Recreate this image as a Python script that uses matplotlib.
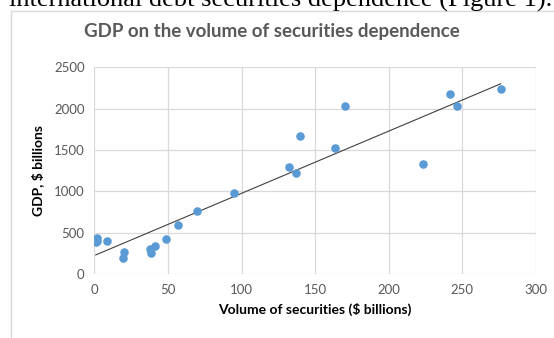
import matplotlib
matplotlib.use('Agg')
import matplotlib.pyplot as plt
from matplotlib.patches import Rectangle
import numpy as np

# volume of securities ($ billions) vs GDP ($ billions)
volume = [1, 1.5, 2, 8.5, 19.5, 20.5, 37.5, 38.5, 41.5, 48.5, 57, 69.5, 95,
          132.5, 137, 139.5, 163.5, 170.5, 223.5, 241.5, 246.5, 276]
gdp = [390, 430, 400, 402, 188, 270, 300, 260, 340, 427, 588, 758, 983,
       1297, 1225, 1665, 1520, 2035, 1326, 2176, 2031, 2237]
xticks = [0, 50, 100, 150, 200, 250, 300]
yticks = [0, 500, 1000, 1500, 2000, 2500]

BLUE = '#5B9BD5'
GRID = '#D9D9D9'
TXT = '#595959'
FONT = 'Lato'

W, H = 554, 338
fig = plt.figure(figsize=(W / 100, H / 100), dpi=100)

# page text cut off at the top
fig.text(9 / W, 1 - 6.7 / H, 'international debt securities dependence (Figure 1).',
         family='Liberation Serif', fontsize=19, ha='left', va='baseline', color='black')

# chart frame
fig.patches.append(Rectangle((10.5 / W, -0.1), 1.2, (H - 10.5) / H + 0.1, transform=fig.transFigure,
                             fill=False, edgecolor=GRID, lw=1))

ax = fig.add_axes([94.3 / W, (H - 274) / H, (536 - 94.3) / W, (274 - 67.3) / H])
ax.scatter(volume, gdp, s=38, color=BLUE, zorder=3, linewidths=0)

coef = np.polyfit(volume, gdp, 1)
xs = np.array([min(volume), max(volume)])
ax.plot(xs, np.polyval(coef, xs), color='#404040', lw=0.8, zorder=2)

ax.set_xlim(0, 300)
ax.set_ylim(0, 2500)
ax.set_xticks(xticks)
ax.set_yticks(yticks)
ax.grid(True, color=GRID, lw=0.9)
ax.set_axisbelow(True)
for s in ax.spines.values():
    s.set_visible(False)
ax.tick_params(length=0, labelsize=9.5, labelcolor=TXT, pad=7)
for lab in ax.get_xticklabels() + ax.get_yticklabels():
    lab.set_family(FONT)

ax.set_xlabel('Volume of securities ($ billions)', family=FONT, fontweight='bold',
              fontsize=10, color='black', labelpad=5)
ax.set_ylabel('GDP, $ billions', family=FONT, fontweight='bold',
              fontsize=10, color='black', labelpad=7)

fig.text(271.5 / W, 1 - 36.5 / H, 'GDP on the volume of securities dependence', family=FONT,
         fontweight='bold', fontsize=13.5, color=TXT, ha='center', va='baseline')

fig.savefig('out.png', dpi=100)
